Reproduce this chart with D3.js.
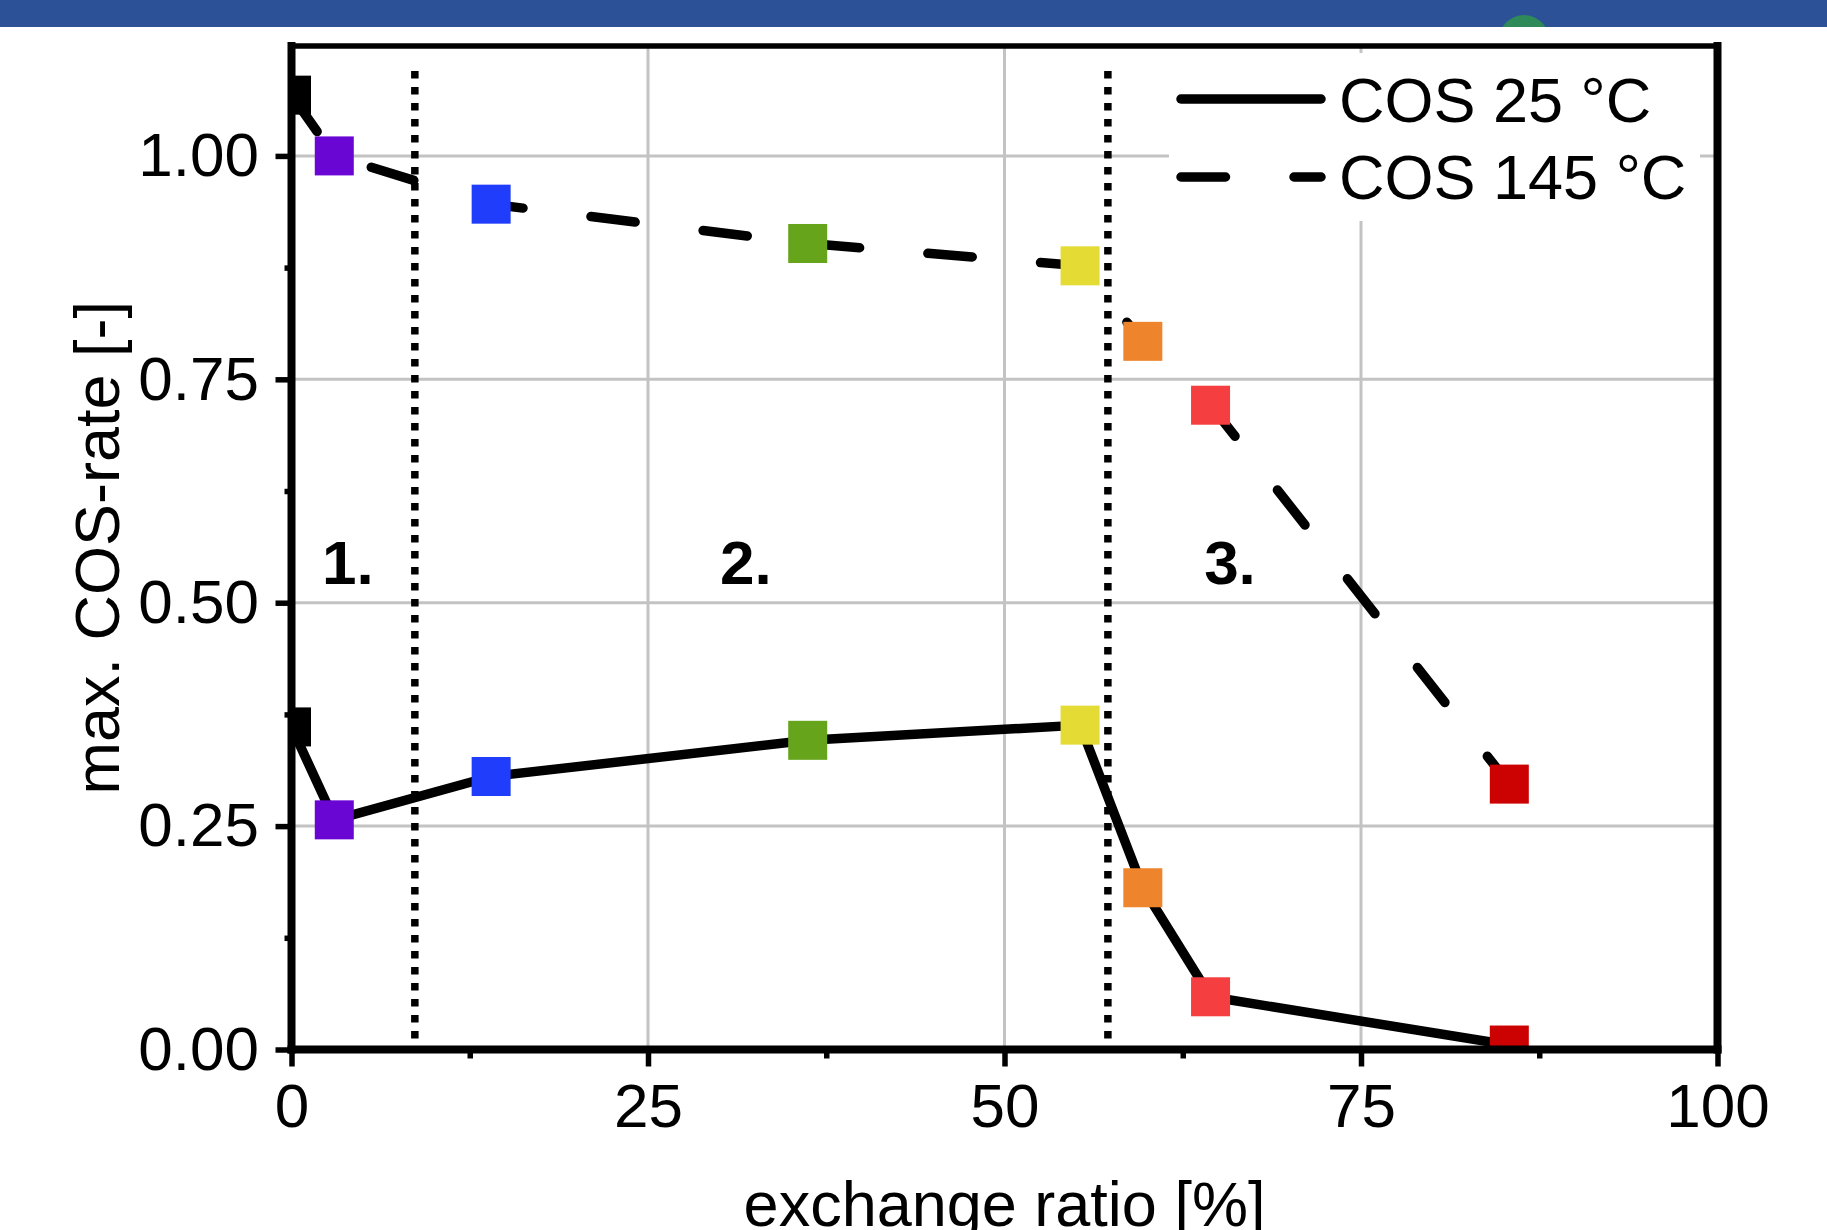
<!DOCTYPE html>
<html>
<head>
<meta charset="utf-8">
<script src="https://cdn.jsdelivr.net/npm/d3@7"></script>
<style>
  html, body { margin: 0; padding: 0; background: #ffffff; }
  svg { display: block; }
  text { font-family: "Liberation Sans", Arial, sans-serif; fill: #000; }
</style>
</head>
<body>
<svg id="chart" width="1827" height="1230"></svg>
<script>
// ---------------- data ----------------
const exchangeRatio = [0, 3.0, 14.0, 36.2, 55.3, 59.7, 64.45, 85.4];
const rate25 = [0.361, 0.257, 0.3055, 0.346, 0.363, 0.181, 0.059, 0.005];
const rate145 = [1.068, 1.0, 0.946, 0.902, 0.877, 0.7925, 0.721, 0.297];
const markerColors = ["#000000", "#6a06d4", "#1f3dfb", "#65a41b", "#e4db34", "#ee842b", "#f53e3f", "#cc0101"];
const seriesNames = ["COS 25 °C", "COS 145 °C"];
const xTicks = [0, 25, 50, 75, 100];
const xMinorTicks = [12.5, 37.5, 62.5, 87.5];
const yTicks = [0, 0.25, 0.5, 0.75, 1.0];
const yMinorTicks = [0.125, 0.375, 0.625, 0.875];
const dividers = [8.65, 57.25];
const dividerTop = 1.095;
const regionLabels = ["1.", "2.", "3."];
const regionX = [2.14, 30.05, 64.0];
const regionY = 0.521;

// ---------------- layout ----------------
const svg = d3.select("#chart");
const L = 291.5, R = 1717.5, T = 46, B = 1049.5;
const x = d3.scaleLinear().domain([0, 100]).range([L, R]);
const y = d3.scaleLinear().domain([0, 1.123]).range([B, T]);
const lineW = 9.5;
const dash = "44.5,68.5";

// top banner
svg.append("rect").attr("x", 0).attr("y", 0).attr("width", 1827).attr("height", 27).attr("fill", "#2c5196");
svg.append("clipPath").attr("id", "bandClip").append("rect").attr("x", 0).attr("y", 0).attr("width", 1827).attr("height", 27);
svg.append("circle").attr("cx", 1524).attr("cy", 40).attr("r", 25).attr("fill", "#2f8a5a").attr("clip-path", "url(#bandClip)");

// clip for plot area
svg.append("clipPath").attr("id", "plotClip").append("rect")
  .attr("x", L).attr("y", T).attr("width", R - L).attr("height", B - T);

// gridlines
const grid = svg.append("g");
grid.selectAll("line.gx").data(xTicks.slice(1, -1)).join("line")
  .attr("x1", d => x(d)).attr("x2", d => x(d)).attr("y1", T).attr("y2", B)
  .attr("stroke", "#c3c3c3").attr("stroke-width", 3);
grid.selectAll("line.gy").data(yTicks.slice(1)).join("line")
  .attr("x1", L).attr("x2", R).attr("y1", d => y(d)).attr("y2", d => y(d))
  .attr("stroke", "#c3c3c3").attr("stroke-width", 3);

// legend background
svg.append("rect").attr("x", 1169).attr("y", 53).attr("width", 531).attr("height", 168).attr("fill", "#ffffff");

// dotted dividers
svg.selectAll("line.div").data(dividers).join("line")
  .attr("x1", d => x(d)).attr("x2", d => x(d))
  .attr("y1", y(dividerTop)).attr("y2", B)
  .attr("stroke", "#000").attr("stroke-width", 7.5).attr("stroke-dasharray", "7.5,8.5");

// lines
const pts25 = exchangeRatio.map((v, i) => [v, rate25[i]]);
const pts145 = exchangeRatio.map((v, i) => [v, rate145[i]]);
const line = d3.line().x(d => x(d[0])).y(d => y(d[1]));
const plot = svg.append("g").attr("clip-path", "url(#plotClip)");
plot.append("path").attr("d", line(pts25)).attr("fill", "none").attr("stroke", "#000")
  .attr("stroke-width", lineW).attr("stroke-linejoin", "round").attr("stroke-linecap", "round");
plot.append("path").attr("d", line(pts145)).attr("fill", "none").attr("stroke", "#000")
  .attr("stroke-width", lineW).attr("stroke-linejoin", "round").attr("stroke-linecap", "round")
  .attr("stroke-dasharray", dash);

// markers
const ms = 39;
[pts25, pts145].forEach(pts => {
  plot.selectAll(null).data(pts).join("rect")
    .attr("x", d => x(d[0]) - ms / 2).attr("y", d => y(d[1]) - ms / 2)
    .attr("width", ms).attr("height", ms)
    .attr("fill", (d, i) => markerColors[i]);
});

// frame
const frame = svg.append("g").attr("stroke", "#000").attr("stroke-linecap", "square");
frame.append("line").attr("x1", L).attr("x2", R).attr("y1", T).attr("y2", T).attr("stroke-width", 5.5);
frame.append("line").attr("x1", R).attr("x2", R).attr("y1", T).attr("y2", B).attr("stroke-width", 8);
frame.append("line").attr("x1", L).attr("x2", L).attr("y1", T).attr("y2", B).attr("stroke-width", 8);
frame.append("line").attr("x1", L).attr("x2", R).attr("y1", B).attr("y2", B).attr("stroke-width", 8);

// axes
function styleAxis(g) {
  g.select(".domain").remove();
  g.selectAll(".tick line").attr("stroke", "#000").attr("stroke-width", 5.5);
  g.selectAll(".tick text").attr("font-size", 62).attr("fill", "#000")
    .attr("font-family", "'Liberation Sans', Arial, sans-serif");
}
svg.append("g").attr("transform", `translate(0,${B})`)
  .call(d3.axisBottom(x).tickValues(xTicks).tickSize(17).tickPadding(16.5).tickFormat(d3.format("d")))
  .call(styleAxis);
svg.append("g").attr("transform", `translate(0,${B})`)
  .call(d3.axisBottom(x).tickValues(xMinorTicks).tickSize(9).tickFormat(""))
  .call(styleAxis);
svg.append("g").attr("transform", `translate(${L},0)`)
  .call(d3.axisLeft(y).tickValues(yTicks).tickSize(16).tickPadding(16.5).tickFormat(d3.format(".2f")))
  .call(styleAxis);
svg.append("g").attr("transform", `translate(${L},0)`)
  .call(d3.axisLeft(y).tickValues(yMinorTicks).tickSize(7).tickFormat(""))
  .call(styleAxis);

// axis titles
svg.append("text").attr("x", (L + R) / 2).attr("y", 1226).attr("text-anchor", "middle")
  .attr("font-size", 63).text("exchange ratio [%]");
svg.append("text").attr("transform", `translate(119,${(T + B) / 2}) rotate(-90)`)
  .attr("text-anchor", "middle").attr("font-size", 63).text("max. COS-rate [-]");

// region labels
svg.selectAll("text.reg").data(regionLabels).join("text")
  .attr("x", (d, i) => x(regionX[i])).attr("y", y(regionY))
  .attr("font-size", 62).attr("font-weight", "bold").text(d => d);

// legend
const legY = [99, 177];
const legTextY = [122, 199];
seriesNames.forEach((name, i) => {
  svg.append("line").attr("x1", 1181).attr("x2", 1321).attr("y1", legY[i]).attr("y2", legY[i])
    .attr("stroke", "#000").attr("stroke-width", lineW).attr("stroke-linecap", "round")
    .attr("stroke-dasharray", i === 1 ? dash : null);
  svg.append("text").attr("x", 1339).attr("y", legTextY[i]).attr("font-size", 63).text(name);
});
</script>
</body>
</html>
